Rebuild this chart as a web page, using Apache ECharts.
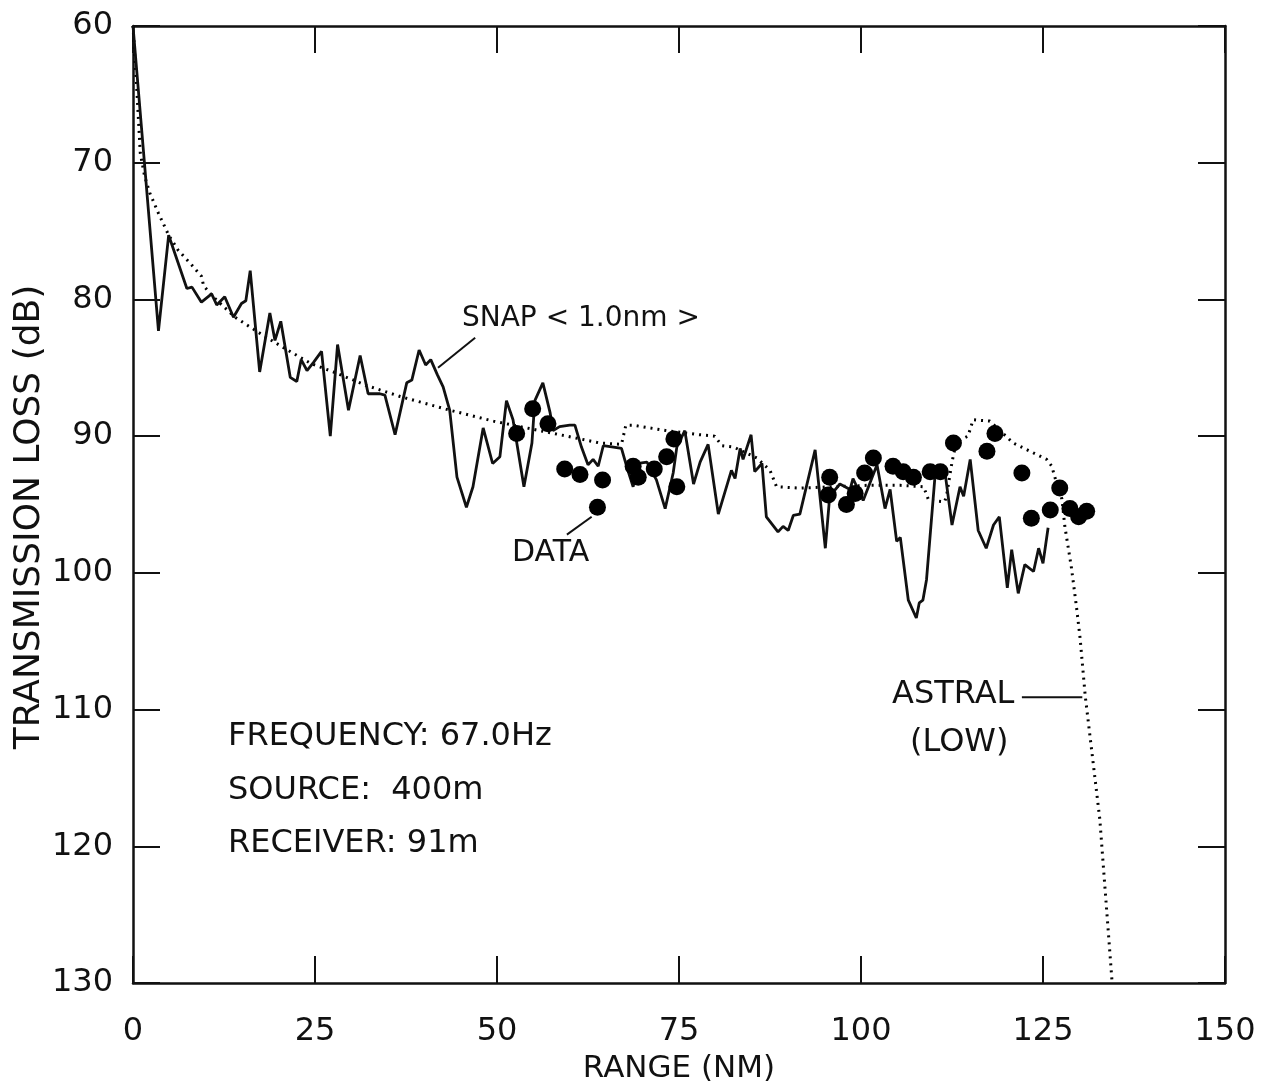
<!DOCTYPE html>
<html>
<head>
<meta charset="utf-8">
<title>Transmission loss vs range</title>
<script src="https://cdn.jsdelivr.net/npm/echarts@6/dist/echarts.min.js"></script>
<style>
  html, body { margin: 0; padding: 0; background: #fff; }
  #chart { width: 1263px; height: 1091px; }
</style>
</head>
<body>
<div id="chart"></div>
<script>
// SNAP <1.0nm> model curve (solid)
var snapRange = [0, 3.5, 4.9, 7.4, 8.1, 9.4, 10.8, 11.5, 12.6, 13.8, 14.9, 15.5, 16.1, 17.4, 18.8, 19.5, 20.3, 21.6, 22.5, 23.1,
  23.9, 24.8, 25.9, 27.1, 28.1, 29.6, 31.2, 32.3, 33.9, 34.6, 36.0, 37.6, 38.3, 39.3, 40.2, 40.9, 41.8, 42.6, 43.5, 44.5,
  45.8, 46.7, 48.1, 49.4, 50.4, 51.3, 52.2, 53.7, 54.8, 55.2, 56.3, 57.3, 57.7, 58.6, 60.0, 60.7, 61.6, 62.5, 63.2, 63.9,
  64.6, 66.0, 67.1, 67.8, 68.7, 69.4, 70.6, 71.9, 73.1, 74.2, 74.7, 75.8, 77.0, 77.9, 79.0, 80.4, 82.2, 82.7, 83.4, 83.8,
  84.9, 85.4, 86.4, 87.0, 88.6, 89.3, 90.0, 90.7, 91.6, 93.7, 95.1, 95.7, 97.1, 98.5, 98.9, 100.3, 102.2, 103.3, 104.0, 104.9,
  105.4, 106.5, 107.6, 108.0, 108.5, 109.0, 110.2, 110.6, 111.5, 112.5, 113.6, 114.1, 115.0, 116.1, 117.2, 118.2, 119.0, 120.1, 120.7, 121.6,
  122.5, 123.7, 124.4, 125.0, 125.7];
var snapLoss = [60, 82.3, 75.3, 79.2, 79.1, 80.2, 79.6, 80.4, 79.8, 81.3, 80.3, 80.1, 77.9, 85.3, 81.0, 83.0, 81.6, 85.7, 86.0, 84.4,
  85.2, 84.6, 83.8, 90.0, 83.3, 88.1, 84.1, 86.9, 86.9, 87.0, 89.9, 86.1, 85.9, 83.7, 84.8, 84.4, 85.5, 86.4, 88.1, 93.0,
  95.2, 93.7, 89.4, 92.0, 91.5, 87.4, 88.8, 93.7, 90.5, 87.4, 86.1, 88.3, 89.6, 89.3, 89.2, 89.2, 90.8, 92.1, 91.7, 92.2,
  90.7, 90.8, 90.9, 92.2, 93.7, 92.0, 91.9, 93.2, 95.3, 92.7, 90.8, 89.6, 93.5, 91.9, 90.6, 95.7, 92.5, 93.1, 90.9, 91.7,
  89.9, 92.6, 92.0, 95.9, 97.0, 96.6, 96.9, 95.8, 95.7, 91.0, 98.2, 94.4, 93.5, 93.9, 93.1, 94.7, 92.1, 95.3, 93.9, 97.7,
  97.4, 102.0, 103.3, 102.2, 102.0, 100.5, 92.7, 92.1, 92.5, 96.5, 93.7, 94.4, 91.7, 96.9, 98.2, 96.5, 95.9, 101.1, 98.3, 101.5,
  99.4, 99.9, 98.2, 99.3, 96.7];

// ASTRAL (LOW) model curve (dotted)
var astralRange = [0, 0.5, 1, 1.6, 2.3, 3.5, 4.9, 6.2, 8.1, 9.4, 9.7, 11.0, 14.0, 17.2, 20.9, 24.5, 27.5, 32.1, 36.7, 43.5,
  49.5, 55.0, 59.6, 64.1, 67.1, 67.7, 68.7, 73.3, 77.9, 79.9, 80.9, 82.5, 85.7, 87.5, 88.4, 91.6, 96.2, 100.8, 105.4, 108.6,
  109.3, 111.5, 111.8, 112.5, 113.1, 114.7, 115.4, 117.7, 120.9, 125.5, 126.2, 126.9, 127.6, 128.0, 128.9, 129.6, 130.1, 130.8, 132.8, 134.5];
var astralLoss = [60, 64.4, 69.3, 71.0, 72.2, 73.7, 75.3, 76.4, 77.5, 78.3, 79.0, 79.8, 81.3, 82.4, 83.6, 84.7, 85.3, 86.3, 87.1, 88.1,
  88.9, 89.5, 90.0, 90.5, 90.6, 89.2, 89.2, 89.6, 89.9, 90.0, 90.7, 90.8, 91.6, 92.5, 93.7, 93.8, 93.7, 93.6, 93.6, 93.7,
  94.7, 94.8, 94.2, 91.9, 90.4, 90.0, 88.8, 88.9, 90.5, 91.7, 92.2, 93.5, 94.6, 96.6, 99.6, 102.5, 104.8, 109.0, 118.0, 130];

// measured DATA (filled circles)
var dataRange = [52.7, 54.9, 57.0, 59.3, 61.4, 64.5, 63.8, 68.7, 69.4, 71.6, 73.3, 74.3, 74.7, 95.7, 95.5, 98.0, 99.2,
  100.5, 101.7, 104.4, 105.8, 107.2, 109.5, 110.9, 112.7, 117.3, 118.4, 122.1, 123.4, 126.0, 127.3, 128.7, 129.9, 131.0];
var dataLoss = [89.8, 88.0, 89.1, 92.4, 92.8, 93.2, 95.2, 92.2, 93.0, 92.4, 91.5, 90.2, 93.7, 93.0, 94.3, 95.0, 94.2,
  92.7, 91.6, 92.2, 92.6, 93.0, 92.6, 92.6, 90.5, 91.1, 89.8, 92.7, 96.0, 95.4, 93.8, 95.3, 95.9, 95.5];

// axis ticks
var rangeTicks = [0, 25, 50, 75, 100, 125, 150];
var lossTicks = [60, 70, 80, 90, 100, 110, 120, 130];

// leader lines for the labels (range, loss)
var snapLeader = [[41.9, 85.0], [47.0, 82.8]];
var dataLeader = [[59.6, 97.2], [63.0, 95.9]];
var astralLeader = [[122.1, 109.1], [130.4, 109.1]];

var FONT = "'DejaVu Sans', sans-serif";
var INK = '#111';

function zip(xs, ys) {
  return xs.map(function (x, i) { return [x, ys[i]]; });
}

var chart = echarts.init(document.getElementById('chart'), null, { renderer: 'canvas' });

var axisCommon = {
  axisLine: { show: true, onZero: false, lineStyle: { color: INK, width: 2.5 } },
  axisTick: { show: true, inside: true, length: 27, lineStyle: { color: INK, width: 2 } },
  splitLine: { show: false }
};

function xAx(pos, showLabel) {
  return Object.assign({
    type: 'value',
    position: pos,
    min: rangeTicks[0],
    max: rangeTicks[rangeTicks.length - 1],
    interval: 25,
    axisLabel: { show: showLabel, color: INK, fontSize: 32, fontFamily: FONT, margin: 33 },
    name: showLabel ? 'RANGE (NM)' : '',
    nameLocation: 'middle',
    nameGap: 70,
    nameTextStyle: { color: INK, fontSize: 31, fontFamily: FONT }
  }, axisCommon);
}

function yAx(pos, showLabel) {
  return Object.assign({
    type: 'value',
    position: pos,
    inverse: true,
    min: lossTicks[0],
    max: lossTicks[lossTicks.length - 1],
    interval: 10,
    axisLabel: { show: showLabel, color: INK, fontSize: 32, fontFamily: FONT, margin: 20 }
  }, axisCommon);
}

function leader(pts) {
  return {
    type: 'line',
    data: pts,
    symbol: 'none',
    silent: true,
    lineStyle: { color: INK, width: 2 },
    z: 3
  };
}

function label(text, left, top, size) {
  return {
    type: 'text',
    left: left,
    top: top,
    style: { text: text, fill: INK, font: size + 'px ' + FONT }
  };
}

chart.setOption({
  backgroundColor: '#fff',
  animation: false,
  grid: { left: 133, right: 38, top: 26, bottom: 108, containLabel: false, outerBoundsMode: 'none' },
  xAxis: [xAx('bottom', true), xAx('top', false)],
  yAxis: [yAx('left', true), yAx('right', false)],
  series: [
    {
      name: 'ASTRAL (LOW)',
      type: 'line',
      data: zip(astralRange, astralLoss),
      symbol: 'none',
      lineStyle: { color: '#000', width: 3, type: [2, 5] },
      z: 2
    },
    {
      name: 'SNAP <1.0nm>',
      type: 'line',
      data: zip(snapRange, snapLoss),
      symbol: 'none',
      lineStyle: { color: INK, width: 2.8 },
      z: 3
    },
    {
      name: 'DATA',
      type: 'scatter',
      data: zip(dataRange, dataLoss),
      symbol: 'circle',
      symbolSize: 17,
      itemStyle: { color: '#000', opacity: 1 },
      z: 4
    },
    leader(snapLeader),
    leader(dataLeader),
    leader(astralLeader)
  ],
  graphic: [
    {
      // y axis title
      type: 'text',
      x: 30,
      y: 517,
      rotation: Math.PI / 2,
      style: { text: 'TRANSMISSION LOSS (dB)', fill: INK, font: '36px ' + FONT, align: 'center', verticalAlign: 'middle' }
    },
    label('SNAP < 1.0nm >', 462, 305, 28),
    label('DATA', 512, 538, 30),
    label('ASTRAL', 892, 679, 32),
    label('(LOW)', 910, 727, 32),
    label('FREQUENCY: 67.0Hz', 228, 721, 32),
    label('SOURCE:  400m', 228, 775, 32),
    label('RECEIVER: 91m', 228, 828, 32)
  ]
});
</script>
</body>
</html>
